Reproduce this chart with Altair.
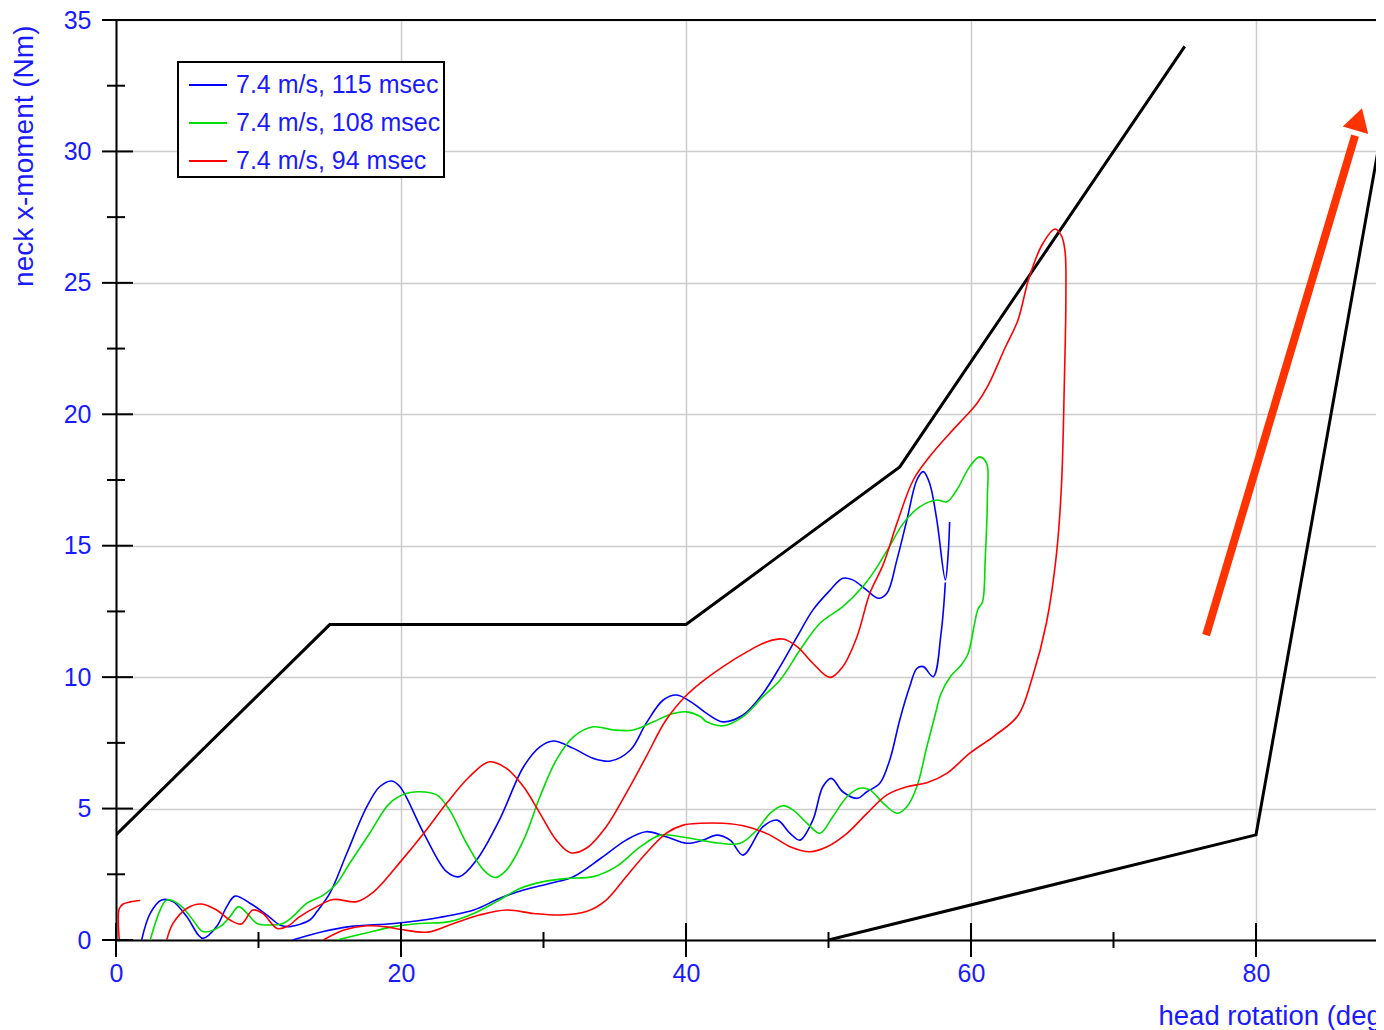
import altair as alt
import pandas as pd

# ---------------- data ----------------
series_labels = ["7.4 m/s, 115 msec", "7.4 m/s, 108 msec", "7.4 m/s, 94 msec"]
series_colors = ["#0000ff", "#00dd00", "#ff0000"]

# blue: loading branch (ends with a short spur)
blue_a_x = [1.8, 2.4, 3.2, 4.0, 4.96, 5.78, 6.1, 7.06, 7.77, 8.35, 9.4, 10.6, 11.5, 12.2, 13.6, 14.1,
            15.0, 16.2, 17.6, 18.5, 19.35, 19.93, 21.6, 23.2, 24.1, 25.3, 26.9, 28.6, 29.75, 30.7,
            32.1, 33.5, 34.7, 36.1, 37.2, 38.4, 39.35, 40.5, 41.45, 42.6, 44.0, 45.4, 46.6, 47.8,
            48.9, 50.1, 51.0, 51.7, 52.7, 53.5, 54.1, 54.8, 55.5, 56.2, 56.65, 57.1, 57.6, 58.2,
            58.4, 58.5]
blue_a_y = [0.0, 1.01, 1.52, 1.46, 0.89, 0.19, 0.06, 0.51, 1.27, 1.67, 1.4, 0.95, 0.57, 0.51, 0.76, 1.08,
            1.77, 3.3, 5.07, 5.83, 6.05, 5.83, 4.06, 2.6, 2.41, 3.04, 4.56, 6.59, 7.35, 7.57,
            7.29, 6.91, 6.81, 7.23, 8.24, 9.13, 9.32, 9.0, 8.62, 8.3, 8.56, 9.38, 10.4, 11.54,
            12.55, 13.3, 13.76, 13.7, 13.3, 13.0, 13.19, 14.46, 15.98, 17.5, 17.82, 17.37, 15.98, 13.7,
            14.71, 15.9]
# blue: unloading branch
blue_b_x = [12.4, 14.55, 16.4, 19.5, 22.3, 25.1, 26.9, 28.6, 30.5, 32.1, 34.0, 35.8, 37.2, 38.6,
            40.05, 41.2, 42.15, 43.1, 44.0, 45.4, 46.4, 47.3, 48.0, 48.9, 49.6, 50.2, 51.0, 52.0,
            52.7, 53.6, 54.3, 55.0, 55.7, 56.2, 56.65, 57.35, 57.9, 58.2]
blue_b_y = [0.0, 0.32, 0.51, 0.63, 0.82, 1.14, 1.58, 1.9, 2.16, 2.41, 3.1, 3.8, 4.12, 3.93,
            3.68, 3.8, 3.99, 3.8, 3.23, 4.31, 4.56, 4.06, 3.8, 4.56, 5.83, 6.15, 5.64, 5.39,
            5.64, 5.96, 6.85, 8.37, 9.64, 10.33, 10.4, 10.02, 11.67, 13.6]

green_x = [2.4, 3.1, 3.56, 4.5, 5.4, 6.1, 7.3, 8.0, 8.6, 9.2, 9.9, 10.8, 11.7, 12.4, 13.4, 14.55,
           15.5, 16.4, 17.8, 19.2, 20.4, 21.3, 22.5, 23.4, 24.6, 25.8, 26.6, 27.4, 28.6, 29.75,
           30.9, 32.1, 33.5, 34.9, 36.3, 37.7, 39.1, 40.05, 41.0, 41.45, 42.6, 44.0, 45.4, 46.6,
           48.0, 49.4, 51.0, 52.4, 53.3, 54.2, 55.25, 56.4, 57.6, 58.3, 59.0, 59.9, 60.6, 61.1,
           61.15, 61.0, 60.8, 60.5, 60.2, 59.8, 59.3, 58.6, 57.9, 57.5, 56.9, 56.2, 55.5, 54.8,
           53.85, 52.9, 52.2, 51.3, 50.3, 49.4, 48.5, 47.5, 46.8, 45.9, 44.96, 43.8, 42.4, 41.0,
           39.6, 38.2, 36.8, 35.1, 33.5, 31.6, 30.0, 28.35, 26.7, 25.1, 23.4, 21.3, 19.5, 17.4, 15.5]
green_y = [0.0, 1.14, 1.52, 1.33, 0.76, 0.32, 0.51, 0.89, 1.27, 1.01, 0.63, 0.57, 0.63, 0.89, 1.4, 1.71,
           2.16, 2.92, 4.06, 5.2, 5.58, 5.64, 5.52, 4.95, 3.68, 2.66, 2.38, 2.66, 3.8, 5.45,
           6.85, 7.73, 8.11, 7.99, 7.99, 8.3, 8.62, 8.68, 8.5, 8.3, 8.15, 8.5, 9.26, 9.89,
           11.03, 12.05, 12.68, 13.44, 14.1, 14.9, 15.85, 16.48, 16.74, 16.67, 17.12, 18.0, 18.38, 18.13,
           16.9, 14.5, 12.85, 12.6, 11.9, 10.9, 10.45, 10.05, 9.38, 8.6, 7.35, 5.83, 5.07, 4.82,
           5.2, 5.71, 5.77, 5.45, 4.69, 4.06, 4.44, 4.95, 5.11, 4.82, 4.18, 3.68, 3.68, 3.8,
           3.93, 3.99, 3.55, 2.79, 2.41, 2.34, 2.22, 1.96, 1.46, 1.01, 0.7, 0.63, 0.51, 0.25, 0.0]

red_x = [3.56, 4.0, 4.96, 6.0, 7.06, 8.0, 8.8, 9.6, 10.3, 11.3, 12.0, 12.9, 14.1, 15.25, 16.9, 18.1,
         20.0, 21.6, 23.2, 24.8, 26.2, 27.4, 28.6, 29.75, 30.9, 31.9, 33.0, 34.4, 35.8, 37.2, 38.6,
         40.05, 41.0, 42.6, 44.3, 45.7, 46.8, 47.8, 48.9, 50.1, 51.0, 52.0, 52.9, 53.85, 54.8, 55.95,
         57.1, 58.5, 59.7, 60.4, 61.2, 62.4, 63.3, 64.05, 65.0, 65.9, 66.35, 66.6, 66.66, 66.55,
         66.35, 66.0, 65.3, 64.3, 63.3, 61.6, 59.9, 58.3, 56.9, 55.5, 54.1, 52.7, 51.3, 49.9, 48.7,
         47.3, 45.9, 44.3, 42.6, 41.0, 39.8, 38.6, 37.2, 35.8, 34.4, 33.0, 31.2, 29.3, 27.4, 25.5,
         23.7, 21.9, 20.0, 19.0, 17.6, 16.0, 14.55]
red_y = [0.0, 0.63, 1.2, 1.37, 1.14, 0.76, 0.61, 1.14, 1.01, 0.44, 0.51, 0.89, 1.27, 1.54, 1.46, 1.84,
         3.0, 4.06, 5.2, 6.21, 6.78, 6.53, 5.83, 4.82, 3.8, 3.32, 3.49, 4.31, 5.58, 6.97, 8.37,
         9.32, 9.77, 10.4, 10.97, 11.35, 11.45, 11.16, 10.53, 9.99, 10.4, 11.54, 13.19, 14.3, 15.85, 17.5,
         18.39, 19.27, 19.97, 20.4, 21.1, 22.54, 23.59, 25.15, 26.46, 27.05, 26.79, 26.2, 24.5, 21.2,
         17.3, 14.69, 12.08, 9.98, 8.54, 7.75, 7.1, 6.34, 5.98, 5.83, 5.52, 4.82, 4.06, 3.55, 3.36,
         3.55, 3.99, 4.31, 4.44, 4.44, 4.37, 4.06, 3.3, 2.41, 1.52, 1.08, 0.95, 1.01, 1.14, 0.95,
         0.63, 0.3, 0.4, 0.5, 0.54, 0.38, 0.0]
# red: short piece at the left edge
red_hook_x = [0.23, 0.23, 0.5, 1.0, 1.7]
red_hook_y = [0.0, 1.2, 1.37, 1.45, 1.5]

# black limit lines
upper_x = [0, 15, 40, 55, 75]
upper_y = [4, 12, 12, 18, 34]
lower_x = [50, 80, 90]
lower_y = [0, 4, 34.4]

# red arrow (annotation)
arrow_x = [76.5, 86.95]
arrow_y = [11.6, 30.6]
arrow_head_x = [87.21]
arrow_head_y = [31.22]

# axis ticks
x_major = [0, 20, 40, 60, 80]
x_minor = [10, 30, 50, 70]
y_major = [0, 5, 10, 15, 20, 25, 30, 35]
y_minor = [2.5, 7.5, 12.5, 17.5, 22.5, 27.5, 32.5]
y_top = [35]

# ---------------- build tables ----------------
rows = []
def add(label, seg, xs, ys):
    for i, (x, y) in enumerate(zip(xs, ys)):
        rows.append({"series": label, "seg": seg, "i": i, "x": x, "y": y})

add(series_labels[0], "b1", blue_a_x, blue_a_y)
add(series_labels[0], "b2", blue_b_x, blue_b_y)
add(series_labels[1], "g1", green_x, green_y)
add(series_labels[2], "r1", red_x, red_y)
add(series_labels[2], "r2", red_hook_x, red_hook_y)
curves = pd.DataFrame(rows)

env_rows = []
for i, (x, y) in enumerate(zip(upper_x, upper_y)):
    env_rows.append({"seg": "upper", "i": i, "x": x, "y": y})
for i, (x, y) in enumerate(zip(lower_x, lower_y)):
    env_rows.append({"seg": "lower", "i": i, "x": x, "y": y})
envelope = pd.DataFrame(env_rows)

arrow = pd.DataFrame({"x": arrow_x, "y": arrow_y})
arrow_head = pd.DataFrame({"x": arrow_head_x, "y": arrow_head_y})

BLUE_TEXT = "#1a1aff"
FONT = "Liberation Sans"
W, H = 1260, 920
X_MAX = W / 14.25

xscale = alt.Scale(domain=[0, X_MAX], nice=False, zero=False)
yscale = alt.Scale(domain=[0, 35], nice=False, zero=False)

x_axis = alt.Axis(values=x_major, title="head rotation (deg)", ticks=False, labelPadding=21,
                  labelFlush=False, grid=True, titleX=1042, titleY=84, titleAlign="left",
                  titleBaseline="alphabetic", labelOverlap=False, titleFontSize=27.5)
y_axis = alt.Axis(values=[0, 5, 10, 15, 20, 25, 30, 35], title="neck x-moment (Nm)", ticks=False,
                  labelPadding=25, grid=True, titleX=-92, titleY=5, titleAngle=270,
                  titleAlign="right", titleBaseline="middle", labelOverlap=False, titleFontSize=28)

def X(field):
    return alt.X(field, type="quantitative", scale=xscale, axis=x_axis)

def Y(field):
    return alt.Y(field, type="quantitative", scale=yscale, axis=y_axis)

envelope_lines = alt.Chart(envelope).mark_line(color="black", strokeWidth=3, clip=True).encode(
    x=X("x"), y=Y("y"), detail="seg:N", order="i:Q"
)

lines = alt.Chart(curves).mark_line(strokeWidth=1.6, clip=True, interpolate="catmull-rom").encode(
    x=X("x"), y=Y("y"),
    color=alt.Color("series:N",
                    scale=alt.Scale(domain=series_labels, range=series_colors),
                    sort=series_labels,
                    legend=alt.Legend(title=None, orient="none", legendX=62, legendY=42,
                                      symbolType="stroke", symbolSize=1444, symbolStrokeWidth=2,
                                      symbolOffset=7, labelFontSize=25, labelFont=FONT,
                                      labelColor=BLUE_TEXT, labelOffset=8, padding=3,
                                      rowPadding=5, strokeColor="black", fillColor="white",
                                      labelLimit=0, cornerRadius=0)),
    detail="seg:N", order="i:Q"
)

arrow_shaft = alt.Chart(arrow).mark_line(color="#ff3300", strokeWidth=8, strokeCap="butt").encode(
    x=X("x"), y=Y("y")
)
arrow_tip = alt.Chart(arrow_head).mark_point(shape="triangle-up", angle=16.4, filled=True,
                                              size=700, color="#ff3300", opacity=1).encode(
    x=X("x"), y=Y("y")
)

xt_major = alt.Chart(pd.DataFrame({"v": x_major})).mark_rule(color="black", strokeWidth=2).encode(
    x=X("v"), y=alt.value(903), y2=alt.value(937))
xt_minor = alt.Chart(pd.DataFrame({"v": x_minor})).mark_rule(color="black", strokeWidth=2).encode(
    x=X("v"), y=alt.value(912), y2=alt.value(928))
yt_major = alt.Chart(pd.DataFrame({"v": y_major})).mark_rule(color="black", strokeWidth=2).encode(
    y=Y("v"), x=alt.value(-14), x2=alt.value(17))
yt_minor = alt.Chart(pd.DataFrame({"v": y_minor})).mark_rule(color="black", strokeWidth=2).encode(
    y=Y("v"), x=alt.value(-9), x2=alt.value(9))
top_border = alt.Chart(pd.DataFrame({"v": y_top})).mark_rule(color="black", strokeWidth=2).encode(
    y=Y("v"), x=alt.value(-14), x2=alt.value(W))

chart = alt.layer(
    envelope_lines, lines, arrow_shaft, arrow_tip, xt_major, xt_minor, yt_major, yt_minor, top_border
).properties(
    width=W, height=H,
    autosize="none",
    padding={"left": 108, "top": 12, "right": 0, "bottom": 90},
    background="white",
).configure_view(
    stroke=None
).configure_axis(
    domainColor="black", domainWidth=2, gridColor="#cccccc", gridWidth=1.5,
    labelColor=BLUE_TEXT, titleColor=BLUE_TEXT, labelFont=FONT, titleFont=FONT,
    labelFontSize=25, titleFontWeight="normal"
).configure_legend(
    strokeWidth=2
)

chart.save("out.html", embed_options={"renderer": "svg", "actions": False})
